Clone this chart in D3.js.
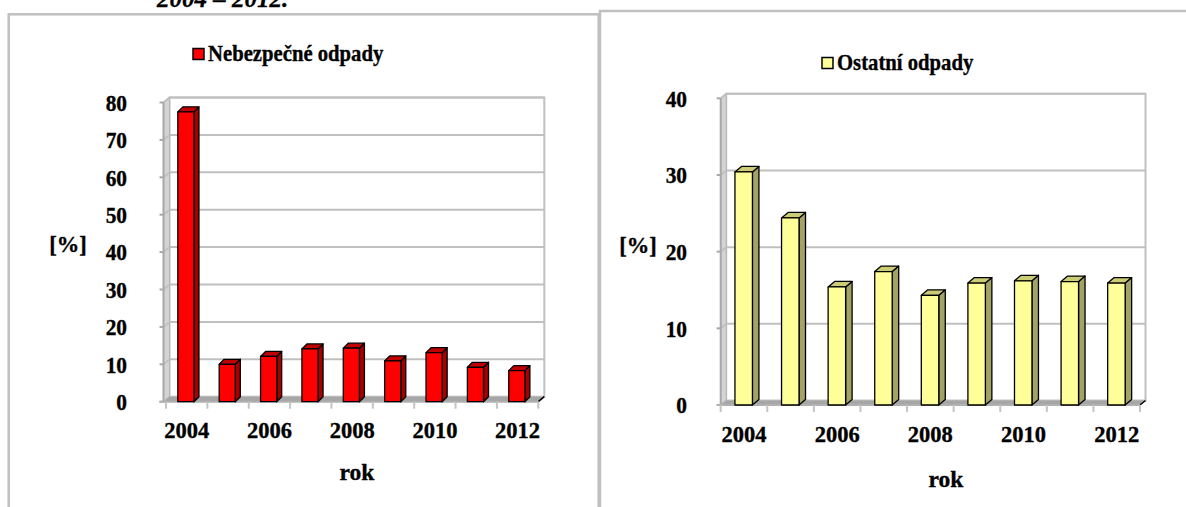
<!DOCTYPE html>
<html><head><meta charset="utf-8">
<script src="https://cdn.jsdelivr.net/npm/d3@7"></script>
<style>
body{margin:0;background:#fff;overflow:hidden}
svg{display:block}
</style>
</head><body>
<svg id="c" width="1186" height="507"></svg>
<script>
// ---- data ----
const years = [2004, 2005, 2006, 2007, 2008, 2009, 2010, 2011, 2012];
const hazardousValues = [77.5, 10.0, 12.1, 14.1, 14.3, 10.9, 13.1, 9.2, 8.3];
const otherValues = [30.4, 24.4, 15.4, 17.4, 14.3, 15.9, 16.2, 16.1, 15.9];
const hazardousTicks = [0, 10, 20, 30, 40, 50, 60, 70, 80];
const otherTicks = [0, 10, 20, 30, 40];
const yearLabels = ["2004", "2006", "2008", "2010", "2012"];
const seriesNames = ["Nebezpečné odpady", "Ostatní odpady"];
const yAxisTitle = "[%]";
const xAxisTitle = "rok";
const pageTitle = "2004 – 2012.";

// pick an installed serif font (Times-like)
function pickFont() {
  const cands = ["Liberation Serif", "Tinos", "Times New Roman", "Times", "Nimbus Roman", "FreeSerif", "DejaVu Serif", "Noto Serif"];
  const c = document.createElement("canvas").getContext("2d");
  const sample = "Nebezpečné odpady 2004 rok [%]";
  const base = {};
  ["monospace", "sans-serif"].forEach(b => { c.font = "bold 30px " + b; base[b] = c.measureText(sample).width; });
  for (const f of cands) {
    let ok = true;
    for (const b of ["monospace", "sans-serif"]) {
      c.font = "bold 30px '" + f + "', " + b;
      if (Math.abs(c.measureText(sample).width - base[b]) < 0.01) ok = false;
    }
    if (ok) return "'" + f + "', serif";
  }
  return "serif";
}
const FONT = pickFont();

const svg = d3.select("#c")
  .attr("font-family", FONT).attr("font-weight", "bold");

// partial page title cut off at top (as in the source page)
svg.append("text").attr("x", 157).attr("y", 7)
  .attr("font-family", FONT).attr("font-weight", "bold").attr("font-style", "italic")
  .attr("font-size", 25).attr("stroke", "#000").attr("stroke-width", 0.3).text(pageTitle);

// frames
svg.append("rect").attr("x", 8.7).attr("y", 14.3).attr("width", 590).attr("height", 600)
  .attr("fill", "none").attr("stroke", "#c0c0c0").attr("stroke-width", 2.5);
svg.append("rect").attr("x", 600).attr("y", 11).attr("width", 620).attr("height", 600)
  .attr("fill", "none").attr("stroke", "#c0c0c0").attr("stroke-width", 2.5);

function txt(g, xx, yy, s, size, anchor, sx) {
  return g.append("text")
    .attr("transform", `translate(${xx},${yy}) scale(${sx || 1},1)`)
    .attr("font-family", FONT).attr("font-weight", "bold").attr("font-size", size)
    .attr("stroke", "#000").attr("stroke-width", 0.35)
    .attr("text-anchor", anchor || "start").attr("fill", "#000").text(s);
}

function drawChart(cfg) {
  const g = svg.append("g");
  const x = d3.scaleBand().domain(years.map(String)).range([cfg.x0, cfg.x1]).padding(0);
  const y = d3.scaleLinear().domain([0, cfg.ticks[cfg.ticks.length - 1]]).range([cfg.yBottom, cfg.yTop]);
  const wdx = cfg.wdx, wdy = cfg.wdy;
  const ax = cfg.axisX;
  const yB = y(0), yT = y(cfg.ticks[cfg.ticks.length - 1]);
  const grid = "#c0c0c0";

  // back wall
  g.append("rect").attr("x", ax + wdx).attr("y", yT + wdy)
    .attr("width", cfg.x1 + wdx - (ax + wdx)).attr("height", yB - yT)
    .attr("fill", "#fff").attr("stroke", grid).attr("stroke-width", 2);
  // side wall
  g.append("polygon")
    .attr("points", [[ax, yB], [ax, yT], [ax + wdx, yT + wdy], [ax + wdx, yB + wdy]].map(p => p.join(",")).join(" "))
    .attr("fill", "#d4d4d4").attr("stroke", "#b4b4b4").attr("stroke-width", 1);
  // gridlines
  cfg.ticks.forEach(t => {
    const yy = y(t);
    g.append("line").attr("x1", ax - 4).attr("x2", ax).attr("y1", yy).attr("y2", yy)
      .attr("stroke", "#a8a8a8").attr("stroke-width", 2);
    g.append("line").attr("x1", ax).attr("x2", ax + wdx).attr("y1", yy).attr("y2", yy + wdy)
      .attr("stroke", grid).attr("stroke-width", 2);
    if (t > 0) {
      g.append("line").attr("x1", ax + wdx).attr("x2", cfg.x1 + wdx).attr("y1", yy + wdy).attr("y2", yy + wdy)
        .attr("stroke", grid).attr("stroke-width", 2);
    }
  });
  // floor
  g.append("polygon")
    .attr("points", [[ax, yB], [cfg.x1, yB], [cfg.x1 + wdx, yB + wdy], [ax + wdx, yB + wdy]].map(p => p.join(",")).join(" "))
    .attr("fill", "#a6a6a6");
  g.append("line").attr("x1", cfg.x1).attr("y1", yB).attr("x2", cfg.x1 + wdx).attr("y2", yB + wdy)
    .attr("stroke", "#000").attr("stroke-width", 1.5);
  // y axis line
  g.append("line").attr("x1", ax).attr("x2", ax).attr("y1", yT).attr("y2", yB)
    .attr("stroke", "#a8a8a8").attr("stroke-width", 2);
  // x axis line + ticks
  g.append("line").attr("x1", ax - 4).attr("x2", cfg.x1).attr("y1", yB).attr("y2", yB)
    .attr("stroke", "#b0b0b0").attr("stroke-width", 2);
  const bounds = years.map(d => x(String(d))).concat([cfg.x1]);
  bounds.forEach(bx => {
    g.append("line").attr("x1", bx).attr("x2", bx).attr("y1", yB).attr("y2", yB + 7)
      .attr("stroke", "#c4c4c4").attr("stroke-width", 2);
  });

  // bars
  const bw = x.bandwidth() * cfg.barFrac;
  const bdx = cfg.bdx, bdy = cfg.bdy;
  years.forEach((yr, i) => {
    const v = cfg.values[i];
    const cx = x(String(yr)) + x.bandwidth() / 2 + cfg.barShift;
    const l = cx - bw / 2, r = cx + bw / 2, top = y(v), bot = yB;
    const bg = g.append("g").attr("stroke", "#000").attr("stroke-width", 1.3).attr("stroke-linejoin", "round");
    bg.append("polygon").attr("points", [[r, top], [r + bdx, top + bdy], [r + bdx, bot + bdy], [r, bot]].map(p => p.join(",")).join(" "))
      .attr("fill", cfg.side);
    bg.append("polygon").attr("points", [[l, top], [l + bdx, top + bdy], [r + bdx, top + bdy], [r, top]].map(p => p.join(",")).join(" "))
      .attr("fill", cfg.topc);
    bg.append("rect").attr("x", l).attr("y", top).attr("width", bw).attr("height", bot - top)
      .attr("fill", cfg.front);
  });

  // y tick labels
  cfg.ticks.forEach(t => {
    txt(g, cfg.yLabelX, y(t) + 8.3, t, 23, "end", 0.93);
  });
  // x tick labels
  yearLabels.forEach(lbl => {
    txt(g, x(lbl) + x.bandwidth() / 2, cfg.xLabelY, lbl, 22.5, "middle", 1);
  });
  // axis titles
  txt(g, cfg.rokX, cfg.rokY, xAxisTitle, 23.5, "middle", 1);
  txt(g, cfg.pctX, cfg.pctY, yAxisTitle, 22.5, "middle", 1);
  // legend
  g.append("rect").attr("x", cfg.legX).attr("y", cfg.legY).attr("width", 11).attr("height", 11)
    .attr("fill", cfg.front).attr("stroke", "#000").attr("stroke-width", 1.5);
  txt(g, cfg.legX + 15, cfg.legY + 12.5, cfg.name, 22.5, "start", 0.92);
}

drawChart({
  values: hazardousValues, ticks: hazardousTicks, name: seriesNames[0],
  x0: 166, x1: 538.3, axisX: 163.5, yBottom: 401.7, yTop: 102.5,
  wdx: 6, wdy: -5, bdx: 5, bdy: -5, barFrac: 0.39, barShift: -0.8,
  front: "#ff0000", topc: "#c00000", side: "#a80000",
  yLabelX: 127, xLabelY: 437.5, rokX: 357, rokY: 480, pctX: 68, pctY: 252,
  legX: 193, legY: 48.5
});

drawChart({
  values: otherValues, ticks: otherTicks, name: seriesNames[1],
  x0: 720.7, x1: 1140, axisX: 720.7, yBottom: 405, yTop: 98.3,
  wdx: 5.5, wdy: -4.5, bdx: 6.5, bdy: -5.5, barFrac: 0.375, barShift: -0.3,
  front: "#ffff99", topc: "#cccc77", side: "#a3a366",
  yLabelX: 687, xLabelY: 441.5, rokX: 946, rokY: 487, pctX: 638, pctY: 253,
  legX: 822, legY: 57.5
});
</script>
</body></html>
